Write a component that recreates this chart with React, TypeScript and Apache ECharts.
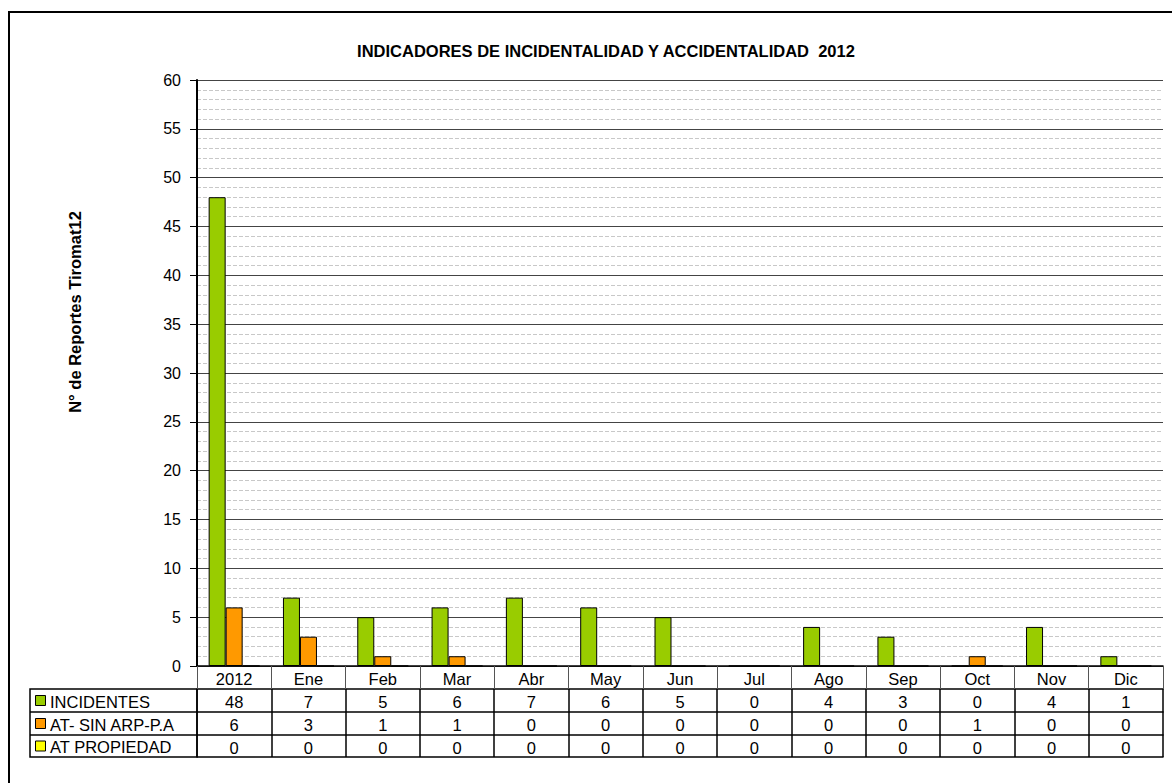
import React, { useEffect, useRef } from "react";
import * as echarts from "echarts";

const categories = ["2012", "Ene", "Feb", "Mar", "Abr", "May", "Jun", "Jul", "Ago", "Sep", "Oct", "Nov", "Dic"];
const seriesNames = ["INCIDENTES", "AT- SIN ARP-P.A", "AT PROPIEDAD"];
const incidentes = [48, 7, 5, 6, 7, 6, 5, 0, 4, 3, 0, 4, 1];
const atSinArp = [6, 3, 1, 1, 0, 0, 0, 0, 0, 0, 1, 0, 0];
const atPropiedad = [0, 0, 0, 0, 0, 0, 0, 0, 0, 0, 0, 0, 0];
const seriesColors = ["#99CC00", "#FF9900", "#FFFF00"];
const titleText = "INDICADORES DE INCIDENTALIDAD Y ACCIDENTALIDAD  2012";
const yAxisTitle = "N° de Reportes Tiromat12";

const FONT = "'Liberation Sans', Arial, Helvetica, sans-serif";
const TABLE_FONT_SIZE = 16.5;

export default function App() {
  const ref = useRef<HTMLDivElement>(null);
  useEffect(() => {
    if (!ref.current) return;
    const chart = echarts.init(ref.current, null, { renderer: "svg" });
    const allSeries = [incidentes, atSinArp, atPropiedad];
    const gridLeft = 197;
    const gridTop = 80;
    const gridBottomY = 666;
    const rowH = [23, 23, 23, 22];
    const rowTops = [689, 712, 735];
    const tableBottom = 757;
    const headerLeft = 30;

    const valueAxes = allSeries.map((vals, i) => ({
      type: "category",
      data: categories,
      gridIndex: 0,
      position: "bottom",
      offset: rowTops[i] - gridBottomY,
      boundaryGap: true,
      axisLine: { show: true, lineStyle: { color: "#000", width: 1.5 } },
      axisTick: { show: true, length: rowH[i + 1], interval: 0, lineStyle: { color: "#000", width: 1.5 } },
      axisLabel: {
        show: true,
        interval: 0,
        margin: 4,
        fontSize: TABLE_FONT_SIZE,
        fontFamily: FONT,
        color: "#000",
        formatter: (_v: string, idx: number) => String(vals[idx]),
      },
    }));

    const graphics: any[] = [
      {
        type: "rect",
        shape: { x: 9, y: 12, width: 1200, height: 800 },
        style: { fill: "none", stroke: "#000", lineWidth: 2 },
        silent: true,
      },
      {
        type: "text",
        x: 75,
        y: 312,
        rotation: Math.PI / 2,
        style: {
          text: yAxisTitle,
          font: `bold 16.5px ${FONT}`,
          fill: "#000",
          align: "center",
          verticalAlign: "middle",
        },
      },
      {
        type: "rect",
        shape: { x: headerLeft, y: rowTops[0], width: gridLeft - headerLeft, height: tableBottom - rowTops[0] },
        style: { fill: "none", stroke: "#000", lineWidth: 1.5 },
      },
    ];
    seriesNames.forEach((name, i) => {
      const top = rowTops[i];
      const h = rowH[i + 1];
      if (i > 0) {
        graphics.push({
          type: "line",
          shape: { x1: headerLeft, y1: top, x2: gridLeft, y2: top },
          style: { stroke: "#000", lineWidth: 1.5 },
        });
      }
      graphics.push({
        type: "rect",
        shape: { x: 35.5, y: top + h / 2 - 5, width: 10, height: 10 },
        style: { fill: seriesColors[i], stroke: "#000", lineWidth: 1 },
      });
      graphics.push({
        type: "text",
        x: 50,
        y: top + h / 2 + 1,
        style: {
          text: name,
          font: `${TABLE_FONT_SIZE}px ${FONT}`,
          fill: "#000",
          align: "left",
          verticalAlign: "middle",
        },
      });
    });

    chart.setOption({
      animation: false,
      backgroundColor: "#fff",
      title: {
        text: titleText,
        left: 601,
        top: 37,
        textAlign: "center",
        textStyle: { fontSize: 16.5, fontWeight: "bold", fontFamily: FONT, color: "#000" },
      },
      grid: { left: gridLeft, right: 9, top: gridTop, bottom: 783 - gridBottomY, containLabel: false },
      xAxis: [
        {
          type: "category",
          data: categories,
          position: "bottom",
          boundaryGap: true,
          axisLine: { show: true, lineStyle: { color: "#000", width: 1.5 } },
          axisTick: { show: true, length: rowH[0], interval: 0, lineStyle: { color: "#555", width: 1 } },
          axisLabel: { show: true, interval: 0, margin: 4, fontSize: TABLE_FONT_SIZE, fontFamily: FONT, color: "#000" },
          splitLine: { show: false },
        },
        ...valueAxes,
        {
          type: "category",
          data: categories,
          position: "bottom",
          offset: tableBottom - gridBottomY,
          axisLine: { show: true, lineStyle: { color: "#000", width: 1.5 } },
          axisTick: { show: false },
          axisLabel: { show: false },
        },
      ],
      yAxis: {
        type: "value",
        min: 0,
        max: 60,
        interval: 5,
        axisLine: { show: true, lineStyle: { color: "#000", width: 2 } },
        axisTick: { show: true, length: 7, lineStyle: { color: "#000" } },
        axisLabel: { margin: 16, fontSize: 16, fontFamily: FONT, color: "#000" },
        splitLine: { show: true, lineStyle: { color: "#444", width: 1 } },
        minorTick: { show: false, splitNumber: 5 },
        minorSplitLine: { show: true, lineStyle: { color: "#c8c8c8", type: [4, 2], width: 1 } },
      },
      series: allSeries.map((vals, i) => ({
        name: seriesNames[i],
        type: "bar",
        xAxisIndex: 0,
        data: vals,
        barWidth: 17,
        barGap: "0%",
        itemStyle: { color: seriesColors[i], borderColor: "#000", borderWidth: 1 },
      })),
      graphic: graphics,
    });
    return () => chart.dispose();
  }, []);
  return (
    <div
      ref={ref}
      style={{ position: "fixed", left: 0, top: 0, width: 1172, height: 783, background: "#fff" }}
    />
  );
}
